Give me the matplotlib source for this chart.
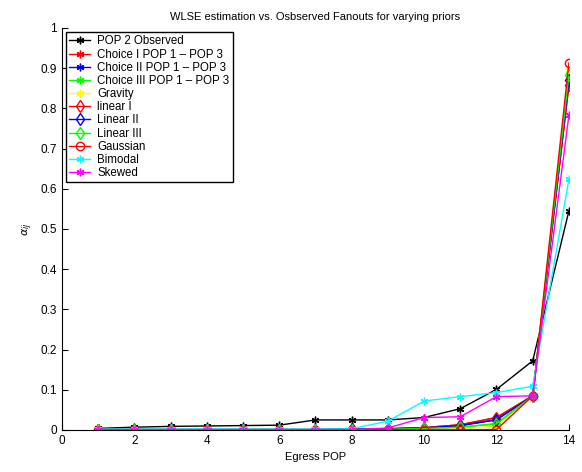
import matplotlib
matplotlib.use('Agg')
import matplotlib.pyplot as plt

egress = list(range(1, 15))

pop2_observed = [0.004, 0.007, 0.009, 0.010, 0.011, 0.012, 0.025, 0.025, 0.025, 0.031, 0.053, 0.101, 0.172, 0.545]
choice1 = [0.001, 0.001, 0.001, 0.001, 0.001, 0.001, 0.001, 0.002, 0.003, 0.006, 0.013, 0.031, 0.085, 0.858]
choice2 = [0.001, 0.001, 0.001, 0.001, 0.001, 0.001, 0.001, 0.002, 0.003, 0.005, 0.011, 0.026, 0.085, 0.870]
choice3 = [0.001, 0.001, 0.001, 0.001, 0.001, 0.001, 0.001, 0.001, 0.002, 0.004, 0.007, 0.016, 0.085, 0.883]
gravity = [0.001, 0.001, 0.001, 0.001, 0.001, 0.001, 0.001, 0.001, 0.002, 0.003, 0.004, 0.009, 0.085, 0.895]
linear1 = [0.001, 0.001, 0.001, 0.001, 0.001, 0.001, 0.001, 0.002, 0.003, 0.006, 0.013, 0.031, 0.085, 0.858]
linear2 = [0.001, 0.001, 0.001, 0.001, 0.001, 0.001, 0.001, 0.002, 0.003, 0.005, 0.011, 0.025, 0.085, 0.870]
linear3 = [0.001, 0.001, 0.001, 0.001, 0.001, 0.001, 0.001, 0.001, 0.002, 0.004, 0.007, 0.015, 0.085, 0.883]
gaussian = [0.0, 0.0, 0.0, 0.0, 0.0, 0.0, 0.0, 0.0, 0.001, 0.001, 0.001, 0.001, 0.085, 0.913]
bimodal = [0.002, 0.002, 0.002, 0.002, 0.002, 0.002, 0.002, 0.003, 0.022, 0.072, 0.083, 0.093, 0.109, 0.624]
skewed = [0.001, 0.001, 0.001, 0.001, 0.001, 0.001, 0.001, 0.001, 0.005, 0.031, 0.033, 0.083, 0.085, 0.783]

# matlab style asterisk: 6 spokes
ast = (6, 2, 0)

series = [
    ("POP 2 Observed", pop2_observed, 'k', ast, 'full'),
    ("Choice I POP 1 \u2013 POP 3", choice1, 'r', ast, 'full'),
    ("Choice II POP 1 \u2013 POP 3", choice2, 'b', ast, 'full'),
    ("Choice III POP 1 \u2013 POP 3", choice3, '#00ff00', ast, 'full'),
    ("Gravity", gravity, '#ffff00', ast, 'full'),
    ("linear I", linear1, 'r', 'd', 'none'),
    ("Linear II", linear2, 'b', 'd', 'none'),
    ("Linear III", linear3, '#00ff00', 'd', 'none'),
    ("Gaussian", gaussian, 'r', 'o', 'none'),
    ("Bimodal", bimodal, '#00ffff', ast, 'full'),
    ("Skewed", skewed, '#ff00ff', ast, 'full'),
]

plt.rcParams['font.family'] = ['Liberation Sans', 'DejaVu Sans']

fig = plt.figure(figsize=(5.82, 4.72), dpi=100)
ax = fig.add_axes([0.1065, 0.089, 0.871, 0.8517])

for label, vals, col, mk, fill in series:
    ms = 5.5 if mk == ast else 6
    ax.plot(egress, vals, color=col, marker=mk, fillstyle=fill, markersize=ms,
            linewidth=1, markeredgewidth=1, label=label)

ax.set_xlim(0, 14)
ax.set_ylim(0, 1)
ax.set_xticks(range(0, 15, 2))
ax.set_yticks([i / 10 for i in range(11)])
ax.set_yticklabels(['0', '0.1', '0.2', '0.3', '0.4', '0.5', '0.6', '0.7', '0.8', '0.9', '1'])
ax.tick_params(direction='in', labelsize=8.5, length=4)
ax.spines['top'].set_visible(False)
ax.spines['right'].set_visible(False)

ax.set_xlabel('Egress POP', fontsize=8)
ax.set_ylabel(r'$\alpha_{ij}$', fontsize=8)
ax.set_title('WLSE estimation vs. Osbserved Fanouts for varying priors', fontsize=8)

leg = ax.legend(loc='upper left', fontsize=8.3, fancybox=False, framealpha=1,
                edgecolor='k', borderaxespad=0.35, handlelength=1.8,
                handletextpad=0.6, labelspacing=0.1, borderpad=0.3)
leg.get_frame().set_linewidth(1)

fig.savefig('out.png', dpi=100)
